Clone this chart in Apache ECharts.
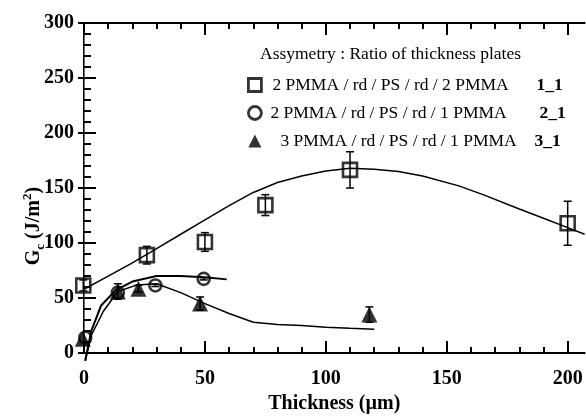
<!DOCTYPE html>
<html style="height: 100%">
<head>
<meta charset="utf-8">
<script src="https://cdn.jsdelivr.net/npm/echarts@6/dist/echarts.min.js"></script>
</head>
<body style="height: 100%; margin: 0; background: #fff">
<div id="container" style="width: 586px; height: 419px"></div>
<script type="text/javascript">

// tick labels
var xMajor = [0, 50, 100, 150, 200];
var xMinor = [10, 20, 30, 40, 60, 70, 80, 90, 110, 120, 130, 140, 160, 170, 180, 190];

// measured points [thickness, Gc, error]
var pts11 = [[-0.3, 61.5, 5], [26, 89, 8], [50, 101, 8.5], [75, 134.5, 9.5], [110, 166.5, 16.5], [200, 118, 20]];
var pts21 = [[0.5, 14, 0], [14, 55, 0], [29.5, 61.5, 1], [49.5, 67.5, 1]];
var pts31 = [[-0.5, 13, 0], [14, 56, 7], [22.5, 58.5, 3], [48, 45, 6], [118, 35, 7]];

// fitted curves
var fit11X = [0, 10, 20, 30, 40, 50, 60, 70, 80, 90, 100, 110, 120, 130, 140, 155, 165, 180, 190, 200, 207];
var fit11Y = [58, 70, 82, 95, 108, 121, 134, 146, 155, 161, 165.5, 168, 167, 165, 161, 152, 144, 131, 122.5, 114, 108];
var fit21X = [0.5, 3, 7, 13, 20, 30, 40, 50, 59];
var fit21Y = [-7, 20, 43, 57, 65, 70, 70, 69, 67];
var fit31X = [0.5, 3, 8, 14, 22, 30, 40, 50, 60, 70, 80, 90, 100, 110, 120];
var fit31Y = [-7, 16, 38, 56, 62, 63, 55, 45, 36, 28, 26, 25, 23.5, 22.5, 21.7];

var names = ['2 PMMA / rd / PS / rd / 2 PMMA', '2 PMMA / rd / PS / rd / 1 PMMA', '3 PMMA / rd / PS / rd / 1 PMMA'];
var tags = ['1_1', '2_1', '3_1'];

var serif = '"Liberation Serif", "Times New Roman", serif';

function zip(xs, ys) {
  return xs.map(function (x, i) { return [x, ys[i]]; });
}

function errBar(params, api) {
  var x = api.value(0), y = api.value(1), e = api.value(2);
  if (!e) return null;
  var t = api.coord([x, y + e]);
  var b = api.coord([x, y - e]);
  var w = 4;
  var st = { stroke: '#000', lineWidth: 1.5 };
  return {
    type: 'group',
    children: [
      { type: 'line', shape: { x1: t[0], y1: t[1], x2: b[0], y2: b[1] }, style: st },
      { type: 'line', shape: { x1: t[0] - w, y1: t[1], x2: t[0] + w, y2: t[1] }, style: st },
      { type: 'line', shape: { x1: b[0] - w, y1: b[1], x2: b[0] + w, y2: b[1] }, style: st }
    ]
  };
}

function fitLine(xs, ys, w) {
  return {
    type: 'line', data: zip(xs, ys), symbol: 'none', clip: false, silent: true,
    lineStyle: { color: '#000', width: w }, z: 2
  };
}

function errSeries(pts) {
  return { type: 'custom', data: pts, renderItem: errBar, clip: false, z: 3, silent: true };
}

function pointSeries(name, pts, symbol, size, filled) {
  return {
    name: name, type: 'scatter', symbol: symbol, symbolSize: size, clip: false, z: 4,
    data: pts.map(function (p) { return [p[0], p[1]]; }),
    itemStyle: filled ? { color: '#000' } : { color: 'rgba(0,0,0,0)', borderColor: '#000', borderWidth: 2.6 }
  };
}

var dom = document.getElementById('container');
var myChart = echarts.init(dom);

var xBase = { type: 'value', min: 0, max: 207, splitLine: { show: false } };
var yBase = { type: 'value', min: 0, max: 300, interval: 50, splitLine: { show: false } };
var tickFont = { fontFamily: serif, fontWeight: 'bold', fontSize: 20, color: '#000' };
var nameTok = { fontFamily: serif, fontWeight: 'bold', fontSize: 20, lineHeight: 26, color: '#000' };

var option = {
  animation: false,
  grid: { left: 84, right: 1.4, top: 23, bottom: 56 },
  graphic: [{
    type: 'text', left: 260, top: 45,
    style: { text: 'Assymetry : Ratio of thickness plates', font: '17.5px ' + serif, fill: '#000' }
  }],
  legend: {
    orient: 'vertical', left: 242, top: 71, itemGap: 10, itemWidth: 13, itemHeight: 13,
    data: [
      { name: names[0], itemStyle: { borderWidth: 2.8 } },
      { name: names[1], icon: 'circle', itemStyle: { borderWidth: 2.8 } },
      { name: names[2] }
    ],
    formatter: function (name) {
      var i = names.indexOf(name);
      return '{a' + i + '|' + name + '}{b|' + tags[i] + '}';
    },
    textStyle: {
      fontFamily: serif, fontSize: 17.5, color: '#000',
      rich: {
        a0: { fontFamily: serif, fontSize: 17.5, lineHeight: 18, width: 264, padding: [0, 0, 0, 6] },
        a1: { fontFamily: serif, fontSize: 17.5, lineHeight: 18, width: 269, padding: [0, 0, 0, 4] },
        a2: { fontFamily: serif, fontSize: 17.5, lineHeight: 18, width: 254, padding: [0, 0, 0, 14] },
        b: { fontFamily: serif, fontSize: 17.5, lineHeight: 18, fontWeight: 'bold' }
      }
    }
  },
  xAxis: [
    Object.assign({}, xBase, {
      position: 'bottom',
      name: 'Thickness (µm)', nameLocation: 'middle', nameGap: 39,
      nameTextStyle: tickFont,
      axisLine: { lineStyle: { color: '#000', width: 2 } },
      axisTick: { inside: true, length: 12, customValues: xMajor, lineStyle: { color: '#000', width: 2 } },
      axisLabel: { customValues: xMajor, margin: 16, textStyle: tickFont }
    }),
    Object.assign({}, xBase, {
      position: 'bottom',
      axisLine: { show: false },
      axisTick: { inside: true, length: 6, customValues: xMinor, lineStyle: { color: '#000', width: 2 } },
      axisLabel: { show: false }
    }),
    Object.assign({}, xBase, {
      position: 'top',
      axisLine: { lineStyle: { color: '#000', width: 2 } },
      axisTick: { inside: true, length: 12, customValues: xMajor, lineStyle: { color: '#000', width: 2 } },
      axisLabel: { show: false }
    }),
    Object.assign({}, xBase, {
      position: 'top',
      axisLine: { show: false },
      axisTick: { inside: true, length: 6, customValues: xMinor, lineStyle: { color: '#000', width: 2 } },
      axisLabel: { show: false }
    })
  ],
  yAxis: [
    Object.assign({}, yBase, {
      position: 'left',
      name: '{n|G}{s|c}{n| (J/m}{p|2}{n|)}', nameLocation: 'middle', nameGap: 37,
      nameMoveOverlap: false,
      nameTextStyle: {
        fontFamily: serif, fontWeight: 'bold', fontSize: 20, color: '#000',
        padding: [0, 76, 0, 0],
        rich: {
          n: nameTok,
          s: { fontFamily: serif, fontWeight: 'bold', fontSize: 13, verticalAlign: 'bottom', color: '#000' },
          p: { fontFamily: serif, fontWeight: 'bold', fontSize: 13, verticalAlign: 'top', color: '#000' }
        }
      },
      axisLine: { lineStyle: { color: '#000', width: 2 } },
      axisTick: { inside: true, length: 12, lineStyle: { color: '#000', width: 2 } },
      minorTick: { show: true, splitNumber: 5, length: 7, lineStyle: { color: '#000', width: 2 } },
      axisLabel: { margin: 10, textStyle: tickFont }
    }),
    Object.assign({}, yBase, {
      position: 'right',
      axisLine: { lineStyle: { color: '#888', width: 1, type: 'dotted' } },
      axisTick: { inside: true, length: 6, lineStyle: { color: '#000', width: 2 } },
      axisLabel: { show: false }
    })
  ],
  series: [
    fitLine(fit11X, fit11Y, 1.5),
    fitLine(fit21X, fit21Y, 2),
    fitLine(fit31X, fit31Y, 1.5),
    errSeries(pts11),
    errSeries(pts21),
    errSeries(pts31),
    pointSeries(names[0], pts11, 'rect', 14, false),
    pointSeries(names[1], pts21, 'circle', 12, false),
    pointSeries(names[2], pts31, 'triangle', 16, true)
  ]
};

myChart.setOption(option);

</script>
</body>
</html>
